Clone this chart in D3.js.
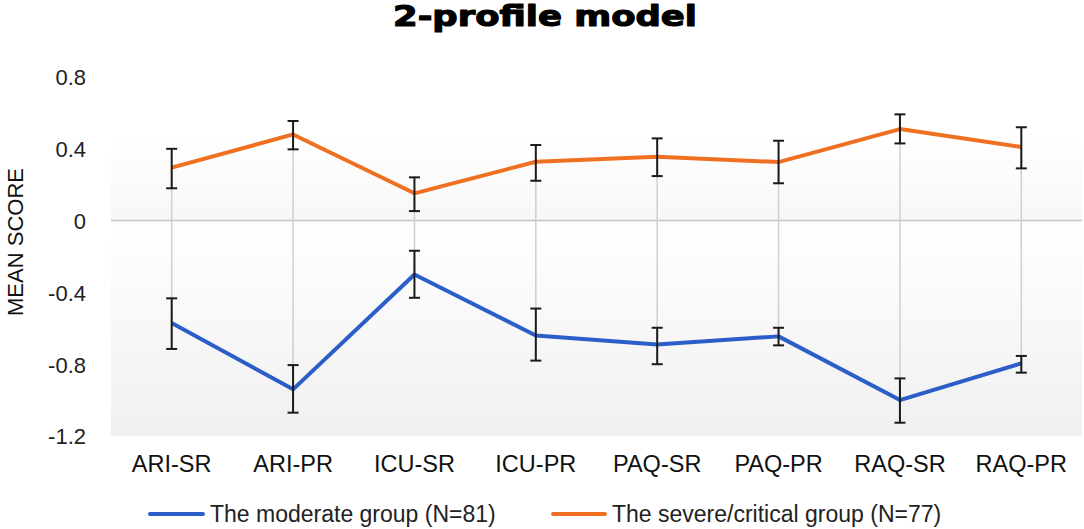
<!DOCTYPE html>
<html>
<head>
<meta charset="utf-8">
<script src="https://cdn.jsdelivr.net/npm/d3@7"></script>
<style>
  html, body { margin: 0; padding: 0; background: #fff; }
  svg { display: block; font-family: "Liberation Sans", Arial, sans-serif; }
</style>
</head>
<body>
<svg id="chart" width="1084" height="529"></svg>
<script>
// ---- data ----
const categories = ["ARI-SR", "ARI-PR", "ICU-SR", "ICU-PR", "PAQ-SR", "PAQ-PR", "RAQ-SR", "RAQ-PR"];
const seriesNames = ["The moderate group (N=81)", "The severe/critical group (N=77)"];
const moderateMean = [-0.57, -0.94, -0.30, -0.64, -0.69, -0.645, -1.00, -0.795];
const moderateLow  = [-0.715, -1.07, -0.43, -0.78, -0.80, -0.695, -1.126, -0.847];
const moderateHigh = [-0.433, -0.805, -0.168, -0.49, -0.597, -0.597, -0.879, -0.754];
const severeMean = [0.295, 0.48, 0.152, 0.328, 0.356, 0.326, 0.51, 0.41];
const severeLow  = [0.18, 0.397, 0.053, 0.222, 0.248, 0.208, 0.43, 0.291];
const severeHigh = [0.40, 0.555, 0.241, 0.421, 0.458, 0.445, 0.592, 0.52];
const yTicks = [0.8, 0.4, 0, -0.4, -0.8, -1.2];
const title = "2-profile model";
const yTitle = "MEAN SCORE";

// ---- layout ----
const svg = d3.select("#chart");
const plot = { left: 111, right: 1082, top: 77, bottom: 436 };
const x = d3.scaleBand().domain(categories).range([plot.left, plot.right]).padding(0);
const y = d3.scaleLinear().domain([-1.2, 0.8]).range([plot.bottom, plot.top]);
const cx = c => x(c) + x.bandwidth() / 2;

const blue = "#2B5EC8", orange = "#F07021";

// gradients for plot background
const defs = svg.append("defs");
const g1 = defs.append("linearGradient").attr("id", "gTop").attr("x1", 0).attr("y1", 0).attr("x2", 0).attr("y2", 1);
g1.append("stop").attr("offset", "0%").attr("stop-color", "#ffffff");
g1.append("stop").attr("offset", "100%").attr("stop-color", "#f7f7f7");
const g2 = defs.append("linearGradient").attr("id", "gBot").attr("x1", 0).attr("y1", 0).attr("x2", 0).attr("y2", 1);
g2.append("stop").attr("offset", "0%").attr("stop-color", "#ffffff");
g2.append("stop").attr("offset", "100%").attr("stop-color", "#f0f0f0");

svg.append("rect")
  .attr("x", plot.left).attr("width", plot.right - plot.left)
  .attr("y", y(0.46)).attr("height", y(0) - y(0.46))
  .attr("fill", "url(#gTop)");
svg.append("rect")
  .attr("x", plot.left).attr("width", plot.right - plot.left)
  .attr("y", y(0)).attr("height", y(-1.2) - y(0))
  .attr("fill", "url(#gBot)");

// zero line
svg.append("line")
  .attr("x1", plot.left).attr("x2", plot.right)
  .attr("y1", y(0)).attr("y2", y(0))
  .attr("stroke", "#c4c4c4").attr("stroke-width", 1.5);

// high-low lines
svg.append("g").selectAll("line").data(categories).join("line")
  .attr("x1", d => cx(d)).attr("x2", d => cx(d))
  .attr("y1", (d, i) => y(severeMean[i])).attr("y2", (d, i) => y(moderateMean[i]))
  .attr("stroke", "#cfcfcf").attr("stroke-width", 1.5);

// y axis labels
const yAxis = d3.axisLeft(y).tickValues(yTicks).tickSize(0).tickPadding(0)
  .tickFormat(d => d === 0 ? "0" : d3.format(".1f")(d).replace("\u2212", "-"));
const ya = svg.append("g").attr("transform", `translate(86,0)`).call(yAxis);
ya.select(".domain").remove();
ya.selectAll("text").attr("font-size", 22).attr("fill", "#222").attr("font-family", "Liberation Sans, Arial, sans-serif").attr("dy", "0.36em");

// x axis labels
const xAxis = d3.axisBottom(x).tickSize(0).tickPadding(0);
const xa = svg.append("g").attr("transform", `translate(0,455)`).call(xAxis);
xa.select(".domain").remove();
xa.selectAll("text").attr("font-size", 23.5).attr("fill", "#111").attr("font-family", "Liberation Sans, Arial, sans-serif").attr("dy", "0.71em");

// y title
svg.append("text")
  .attr("transform", "translate(23,242) rotate(-90)")
  .attr("text-anchor", "middle")
  .attr("font-size", 22).attr("fill", "#111")
  .text(yTitle);

// title
svg.append("text")
  .attr("x", 545).attr("y", 26)
  .attr("text-anchor", "middle")
  .attr("font-family", "DejaVu Sans, sans-serif")
  .attr("font-weight", "900").attr("font-size", 29)
  .attr("textLength", 304).attr("lengthAdjust", "spacingAndGlyphs")
  .attr("fill", "#000").attr("stroke", "#000").attr("stroke-width", 1.2).attr("stroke-linejoin", "round")
  .text(title);

// lines
const line = d3.line().x((d, i) => cx(categories[i])).y(d => y(d));
svg.append("path").datum(severeMean).attr("d", line)
  .attr("fill", "none").attr("stroke", orange).attr("stroke-width", 4).attr("stroke-linejoin", "round");
svg.append("path").datum(moderateMean).attr("d", line)
  .attr("fill", "none").attr("stroke", blue).attr("stroke-width", 4).attr("stroke-linejoin", "round");

// error bars
function errorBars(low, high) {
  const g = svg.append("g").attr("stroke", "#1a1a1a").attr("stroke-width", 2);
  categories.forEach((c, i) => {
    const xc = cx(c);
    g.append("line").attr("x1", xc).attr("x2", xc).attr("y1", y(low[i])).attr("y2", y(high[i]));
    g.append("line").attr("x1", xc - 5.5).attr("x2", xc + 5.5).attr("y1", y(low[i])).attr("y2", y(low[i]));
    g.append("line").attr("x1", xc - 5.5).attr("x2", xc + 5.5).attr("y1", y(high[i])).attr("y2", y(high[i]));
  });
}
errorBars(severeLow, severeHigh);
errorBars(moderateLow, moderateHigh);

// legend
const legendItems = [
  { name: seriesNames[0], color: blue, x1: 150, x2: 203, tx: 210 },
  { name: seriesNames[1], color: orange, x1: 553, x2: 605, tx: 612 }
];
const lg = svg.append("g");
legendItems.forEach(it => {
  lg.append("line").attr("x1", it.x1).attr("x2", it.x2).attr("y1", 514).attr("y2", 514)
    .attr("stroke", it.color).attr("stroke-width", 4).attr("stroke-linecap", "round");
  lg.append("text").attr("x", it.tx).attr("y", 522).attr("font-size", 23).attr("fill", "#222").text(it.name);
});
</script>
</body>
</html>
